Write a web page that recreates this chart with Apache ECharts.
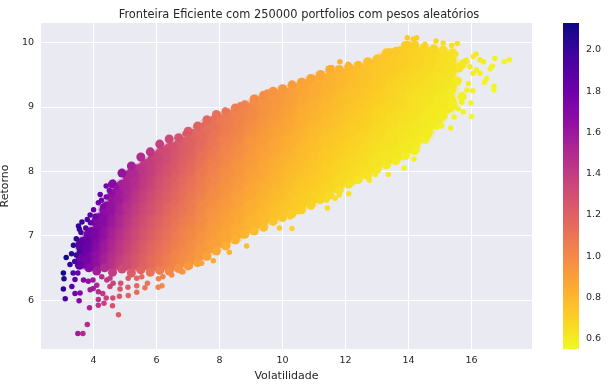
<!DOCTYPE html>
<html><head><meta charset="utf-8">
<style>html,body{margin:0;padding:0;background:#fff}#c{width:609px;height:387px}</style>
<script src="https://cdn.jsdelivr.net/npm/echarts@6/dist/echarts.min.js"></script>
</head><body><div id="c"></div>
<script>
const xTicks=[4,6,8,10,12,14,16];
const yTicks=[6,7,8,9,10];
const barTicks=[0.6,0.8,1.0,1.2,1.4,1.6,1.8,2.0];
const plasmaReversed=['#f0f921','#fcce25','#fca636','#f2844b','#e16462','#cc4778','#b12a90','#8f0da4','#6a00a8','#41049d','#0d0887'];
// [volatilidade, retorno, razão]
const coreLeft=[
[3.7,6.62,1.79],[3.7,6.85,1.85],
[3.95,6.6,1.67],[3.95,6.8,1.72],[3.95,7,1.77],
[4.2,6.62,1.58],[4.2,6.82,1.62],[4.2,7.02,1.67],[4.2,7.22,1.72],
[4.45,6.6,1.48],[4.45,6.8,1.53],[4.45,7,1.57],[4.45,7.2,1.62],[4.45,7.4,1.66],
[4.7,6.6,1.4],[4.7,6.8,1.45],[4.7,7,1.49],[4.7,7.2,1.53],[4.7,7.4,1.57],[4.7,7.6,1.62],
[4.95,6.58,1.33],[4.95,6.78,1.37],[4.95,6.98,1.41],[4.95,7.18,1.45],[4.95,7.38,1.49],[4.95,7.58,1.53],[4.95,7.74,1.56],
[5.2,6.6,1.27],[5.2,6.8,1.31],[5.2,7,1.35],[5.2,7.2,1.38],[5.2,7.4,1.42],[5.2,7.6,1.46],[5.2,7.76,1.49],[5.2,7.9,1.52],
[5.45,6.58,1.21],[5.45,6.78,1.24],[5.45,6.98,1.28],[5.45,7.18,1.32],[5.45,7.38,1.35],[5.45,7.58,1.39],[5.45,7.78,1.43],[5.45,7.98,1.46],
[5.7,6.6,1.16],[5.7,6.8,1.19],[5.7,7,1.23],[5.7,7.2,1.26],[5.7,7.4,1.3],[5.7,7.6,1.33],[5.7,7.8,1.37],[5.7,7.96,1.4],[5.7,8.06,1.41],
[5.95,6.58,1.11],[5.95,6.78,1.14],[5.95,6.98,1.17],[5.95,7.18,1.21],[5.95,7.38,1.24],[5.95,7.58,1.27],[5.95,7.78,1.31],[5.95,7.98,1.34],[5.95,8.15,1.37],
[6.2,6.6,1.06],[6.2,6.8,1.1],[6.2,7,1.13],[6.2,7.2,1.16],[6.2,7.4,1.19],[6.2,7.6,1.23],[6.2,7.8,1.26],[6.2,8,1.29],[6.2,8.14,1.31],[6.2,8.25,1.33],
[6.45,6.58,1.02],[6.45,6.78,1.05],[6.45,6.98,1.08],[6.45,7.18,1.11],[6.45,7.38,1.14],[6.45,7.58,1.18],[6.45,7.78,1.21],[6.45,7.98,1.24],[6.45,8.16,1.27],[6.45,8.31,1.29],
[6.7,6.62,0.99],[6.7,6.82,1.02],[6.7,7.02,1.05],[6.7,7.22,1.08],[6.7,7.42,1.11],[6.7,7.62,1.14],[6.7,7.82,1.17],[6.7,8.02,1.2],[6.7,8.2,1.22],[6.7,8.35,1.25],
[6.95,6.64,0.96],[6.95,6.84,0.98],[6.95,7.04,1.01],[6.95,7.24,1.04],[6.95,7.44,1.07],[6.95,7.64,1.1],[6.95,7.84,1.13],[6.95,8.04,1.16],[6.95,8.24,1.19],[6.95,8.41,1.21]
];
const coreRight=[
[7.25,6.75,0.93],[7.25,7,0.97],[7.25,7.25,1],[7.25,7.5,1.03],[7.25,7.75,1.07],[7.25,8,1.1],[7.25,8.25,1.14],[7.25,8.5,1.17],
[7.65,6.88,0.9],[7.65,7.13,0.93],[7.65,7.38,0.96],[7.65,7.63,1],[7.65,7.88,1.03],[7.65,8.13,1.06],[7.65,8.38,1.1],[7.65,8.63,1.13],
[8.05,6.97,0.87],[8.05,7.22,0.9],[8.05,7.47,0.93],[8.05,7.72,0.96],[8.05,7.97,0.99],[8.05,8.22,1.02],[8.05,8.47,1.05],[8.05,8.72,1.08],
[8.45,7.08,0.84],[8.45,7.33,0.87],[8.45,7.58,0.9],[8.45,7.83,0.93],[8.45,8.08,0.96],[8.45,8.33,0.99],[8.45,8.58,1.02],[8.45,8.8,1.04],
[8.85,7.2,0.81],[8.85,7.45,0.84],[8.85,7.7,0.87],[8.85,7.95,0.9],[8.85,8.2,0.93],[8.85,8.45,0.95],[8.85,8.7,0.98],[8.85,8.9,1.01],
[9.25,7.27,0.79],[9.25,7.52,0.81],[9.25,7.77,0.84],[9.25,8.02,0.87],[9.25,8.27,0.89],[9.25,8.52,0.92],[9.25,8.77,0.95],[9.25,9,0.97],
[9.65,7.37,0.76],[9.65,7.62,0.79],[9.65,7.87,0.82],[9.65,8.12,0.84],[9.65,8.37,0.87],[9.65,8.62,0.89],[9.65,8.87,0.92],[9.65,9.08,0.94],
[10.05,7.45,0.74],[10.05,7.7,0.77],[10.05,7.95,0.79],[10.05,8.2,0.82],[10.05,8.45,0.84],[10.05,8.7,0.87],[10.05,8.95,0.89],[10.05,9.14,0.91],
[10.45,7.53,0.72],[10.45,7.78,0.74],[10.45,8.03,0.77],[10.45,8.28,0.79],[10.45,8.53,0.82],[10.45,8.78,0.84],[10.45,9.03,0.86],[10.45,9.2,0.88],
[10.85,7.62,0.7],[10.85,7.87,0.73],[10.85,8.12,0.75],[10.85,8.37,0.77],[10.85,8.62,0.79],[10.85,8.87,0.82],[10.85,9.12,0.84],[10.85,9.28,0.86],
[11.25,7.73,0.69],[11.25,7.98,0.71],[11.25,8.23,0.73],[11.25,8.48,0.75],[11.25,8.73,0.78],[11.25,8.98,0.8],[11.25,9.23,0.82],[11.25,9.36,0.83],
[11.65,7.83,0.67],[11.65,8.08,0.69],[11.65,8.33,0.72],[11.65,8.58,0.74],[11.65,8.83,0.76],[11.65,9.08,0.78],[11.65,9.33,0.8],[11.65,9.43,0.81],
[12.05,7.94,0.66],[12.05,8.19,0.68],[12.05,8.44,0.7],[12.05,8.69,0.72],[12.05,8.94,0.74],[12.05,9.19,0.76],[12.05,9.44,0.78],
[12.45,8.04,0.65],[12.45,8.29,0.67],[12.45,8.54,0.69],[12.45,8.79,0.71],[12.45,9.04,0.73],[12.45,9.29,0.75],[12.45,9.5,0.76],
[12.85,8.14,0.63],[12.85,8.39,0.65],[12.85,8.64,0.67],[12.85,8.89,0.69],[12.85,9.14,0.71],[12.85,9.39,0.73],[12.85,9.57,0.74],
[13.25,8.25,0.62],[13.25,8.5,0.64],[13.25,8.75,0.66],[13.25,9,0.68],[13.25,9.25,0.7],[13.25,9.5,0.72],[13.25,9.67,0.73],
[13.65,8.33,0.61],[13.65,8.58,0.63],[13.65,8.83,0.65],[13.65,9.08,0.67],[13.65,9.33,0.68],[13.65,9.58,0.7],[13.65,9.72,0.71],
[14.05,8.44,0.6],[14.05,8.69,0.62],[14.05,8.94,0.64],[14.05,9.19,0.65],[14.05,9.44,0.67],[14.05,9.69,0.69],[14.05,9.8,0.7],
[14.45,8.63,0.6],[14.45,8.88,0.61],[14.45,9.13,0.63],[14.45,9.38,0.65],[14.45,9.63,0.67],[14.45,9.77,0.68],
[14.85,8.88,0.6],[14.85,9.13,0.61],[14.85,9.38,0.63],[14.85,9.63,0.65],[14.85,9.75,0.66],
[15.2,9.06,0.6],[15.2,9.31,0.61],[15.2,9.56,0.63],[15.2,9.7,0.64]
];
const rimUpper=[
[4.6,7.8,1.7],[4.9,7.97,1.63],[5.2,8.08,1.55],[5.5,8.22,1.49],[5.8,8.3,1.43],[6.1,8.42,1.38],[6.4,8.5,1.33],[6.7,8.52,1.27],[7,8.62,1.23],[7.3,8.7,1.19],[7.6,8.8,1.16],[7.9,8.88,1.12],[8.2,8.92,1.09],[8.5,8.98,1.06],[8.8,9.03,1.03],[9.1,9.12,1],[9.4,9.18,0.98],[9.7,9.24,0.95],[10,9.28,0.93],[10.3,9.34,0.91],[10.6,9.38,0.88],[10.9,9.44,0.87],[11.2,9.5,0.85],[11.5,9.58,0.83],[11.8,9.58,0.81],[12.1,9.62,0.8],[12.4,9.64,0.78],[12.7,9.7,0.76],[13,9.74,0.75],[13.3,9.84,0.74],[13.6,9.86,0.73],[13.9,9.95,0.72],[14.2,9.96,0.7],[14.5,9.92,0.68],[14.8,9.9,0.67],[15.1,9.88,0.65],[15.4,9.84,0.64],[15.7,9.65,0.61]
];
const rimLower=[
[3.55,6.54,1.84],[3.85,6.5,1.69],[4.1,6.45,1.57],[4.35,6.5,1.49],[4.6,6.43,1.4],[4.9,6.48,1.32],[5.2,6.42,1.23],[5.5,6.47,1.18],[5.8,6.43,1.11],[6.1,6.46,1.06],[6.4,6.45,1.01],[6.7,6.49,0.97],[7,6.53,0.93],[7.3,6.58,0.9],[7.6,6.68,0.88],[7.9,6.76,0.86],[8.2,6.84,0.83],[8.5,6.93,0.82],[8.8,7.02,0.8],[9.1,7.07,0.78],[9.4,7.13,0.76],[9.7,7.22,0.74],[10,7.28,0.73],[10.3,7.34,0.71],[10.6,7.4,0.7],[10.9,7.47,0.69],[11.2,7.56,0.68],[11.5,7.63,0.66],[11.8,7.71,0.65],[12.1,7.8,0.64],[12.4,7.87,0.63],[12.7,7.94,0.63],[13,8.03,0.62],[13.3,8.1,0.61],[13.6,8.16,0.6],[13.9,8.24,0.59],[14.2,8.32,0.59],[14.5,8.5,0.59],[14.8,8.72,0.59],[15.1,8.86,0.59],[15.4,9.02,0.59],[15.7,9.16,0.58],[15.55,9.4,0.6],[15.6,9.6,0.62],[15.3,9.2,0.6]
];
const outliers=[
[3.04,6.42,2.11],[3.06,6.33,2.07],[3.04,6.17,2.03],[3.1,6.02,1.94],[3.13,6.66,2.12],[3.36,6.85,2.04],[3.52,7.15,2.03],[3.63,7.21,1.99],[3.89,7.32,1.88],[4.15,7.51,1.81],[4.21,7.64,1.81],[4.4,7.77,1.77],[4.62,7.83,1.69],
[3.5,5.48,1.57],[3.66,5.48,1.5],[3.8,5.62,1.48],[3.87,5.88,1.52],[3.54,5.99,1.69],[4.79,5.77,1.21],[4.6,5.91,1.28],[4.15,5.92,1.43],[4.33,5.95,1.37],[4.15,6.01,1.45],[4.4,6.03,1.37],[4.61,6.03,1.31],[4.82,6.06,1.26],[5.1,6.07,1.19],[5.37,6.12,1.14],[6.05,6.2,1.03],[6.17,6.22,1.01],[5.63,6.19,1.1],[5.71,6.26,1.1],[5.37,6.22,1.16],[5.09,6.2,1.22],[4.84,6.17,1.27],[4.52,6.21,1.37],[4.29,6.1,1.42],[4.15,6.13,1.48],[3.89,6.16,1.58],[3.99,6.18,1.55],[3.57,6.11,1.71],[3.41,6.1,1.79],[3.31,6.21,1.88],[3.41,6.32,1.85],[3.68,6.31,1.71],[3.83,6.29,1.64],[4.1,6.23,1.52],[6.48,6.39,0.99],[6.06,6.33,1.04],
[5.37,6.34,1.18],[5.53,6.36,1.15],[4.42,6.31,1.43],[4.52,6.34,1.4],[4.62,6.26,1.36],[4.86,6.26,1.29],[3.98,6.31,1.58],[4.26,6.36,1.49],[5.1,6.34,1.24],[6.2,6.36,1.03],[6.84,6.44,0.94],[7.07,6.52,0.92],
[17.2,9.73,0.57],[17.04,9.7,0.57],[16.74,9.75,0.58],[16.71,9.32,0.56],[16.71,9.26,0.55],[16,8.85,0.55],[15.34,8.67,0.57],[15.05,8.7,0.58],[14.91,8.68,0.58],[15.45,8.84,0.57],[15.74,8.92,0.57],[15.58,8.97,0.58],[15.98,9.06,0.57],[15.69,9.07,0.58],[16.04,9.25,0.58],[16.48,9.44,0.57],[16.41,9.38,0.57],[16.59,9.59,0.58],[16.66,9.63,0.58],[16.38,9.7,0.59],[16.27,9.73,0.6],[16.14,9.82,0.61],[16.06,9.78,0.61],[15.83,9.72,0.61],[15.55,9.98,0.64],[15.37,9.95,0.65],[15.1,9.99,0.66],[14.87,10.02,0.67],[14.26,10.07,0.71],[14.15,10.05,0.71],[13.96,10.07,0.72],[13.99,9.98,0.71],[13.73,9.9,0.72],[13.41,9.87,0.74],[14.52,9.97,0.69],[15.51,9.82,0.63],[13.86,8.05,0.58],[13.36,7.95,0.6],[14.17,8.19,0.58],[14.56,8.47,0.58],[14.26,8.33,0.58],
[8.86,6.84,0.77],[8.31,6.74,0.81],[10.3,7.11,0.69],[9.9,7.12,0.72],[11.42,7.43,0.65],[12.1,7.65,0.63],[11.8,7.63,0.65],[12.76,7.86,0.62],[12.94,7.95,0.61],[7.43,6.57,0.88],[7.8,6.61,0.85],[6.8,6.44,0.95],
[16.05,9.52,0.59],[16.27,9.52,0.58],[16.16,9.57,0.59],[15.85,9.26,0.58],[15.9,9.36,0.59],[15.73,9.7,0.62],[15.85,9.7,0.61],[15.95,9.62,0.6],
[3.25,6.55,2.02],[3.3,6.72,2.04],[3.45,6.95,2.01],[3.55,7.1,2],[3.35,6.42,1.92],[3.5,6.42,1.83],[3.6,7.05,1.96],[3.4,6.6,1.95],[3.55,6.75,1.93],[3.45,6.7,1.98],[3.75,7.12,1.9],[3.8,7.25,1.91],[3.9,7.2,1.85],[4,7.4,1.85],[4.05,7.3,1.8],[4.25,7.55,1.78],[4.3,7.45,1.73],[4.4,7.6,1.73],[4.5,7.7,1.71],[4.6,7.65,1.66],[4.72,7.75,1.64],
[11.82,9.7,0.82],[12.08,9.66,0.8],[12.4,9.67,0.78],[11.56,9.61,0.83],[10.9,9.46,0.87],[9.51,9.23,0.97],[9.97,9.3,0.93],[8.17,8.95,1.1],[8.65,9.03,1.04],[7.79,8.82,1.13],[7.43,8.71,1.17],[6.9,8.58,1.24],
[10.24,7.29,0.71],[10.49,7.37,0.7],[11.4,7.55,0.66],[11.67,7.58,0.65],[12.24,7.83,0.64],[12.83,8.07,0.63]
];
const barRange=[0.55,2.13];
// Each layer is painted in order of colour value so neighbouring marks blend as in the dense original.
const ascending=data=>[...data].sort((a,b)=>a[2]-b[2]);
const descending=data=>[...data].sort((a,b)=>b[2]-a[2]);
const scatter=(data,size,opacity=1)=>({type:'scatter',data,symbolSize:size,xAxisIndex:0,yAxisIndex:0,itemStyle:{opacity},silent:true,clip:true});
const ink='#262626', font='DejaVu Sans';
const chart=echarts.init(document.getElementById('c'),null,{renderer:'canvas'});
chart.setOption({
 animation:false,backgroundColor:'#fff',
 title:{text:'Fronteira Eficiente com 250000 portfolios com pesos aleatórios',left:294,top:5,textAlign:'center',textStyle:{fontFamily:font,fontSize:11.4,fontWeight:'normal',color:ink}},
 grid:[{left:41,top:23,width:491,height:326,show:true,backgroundColor:'#eaeaf2',borderWidth:0,outerBoundsMode:'none'},
       {left:563,top:23,width:16,height:326,show:false,outerBoundsMode:'none'}],
 xAxis:[{type:'value',gridIndex:0,min:2.33,max:17.92,name:'Volatilidade',nameLocation:'middle',nameGap:22,nameTextStyle:{fontFamily:font,fontSize:11,color:ink},
   axisLine:{show:false},axisTick:{show:false,customValues:xTicks},axisLabel:{customValues:xTicks,fontFamily:font,fontSize:9.5,color:ink,margin:7},splitLine:{show:true,lineStyle:{color:'#fff',width:1}}},
  {type:'category',gridIndex:1,data:['escala'],show:false}],
 yAxis:[{type:'value',gridIndex:0,min:5.24,max:10.3,name:'Retorno',nameLocation:'middle',nameGap:28,nameTextStyle:{fontFamily:font,fontSize:11,color:ink},
   axisLine:{show:false},axisTick:{show:false,customValues:yTicks},axisLabel:{customValues:yTicks,fontFamily:font,fontSize:9.5,color:ink,margin:7},splitLine:{show:true,lineStyle:{color:'#fff',width:1}}},
  {type:'value',gridIndex:1,position:'right',min:barRange[0],max:barRange[1],axisLine:{show:false},axisTick:{show:false,customValues:barTicks},
   axisLabel:{customValues:barTicks,fontFamily:font,fontSize:9.5,color:ink,margin:7,formatter:v=>v.toFixed(1)},splitLine:{show:false}}],
 visualMap:{type:'continuous',show:false,min:barRange[0],max:barRange[1],dimension:2,seriesIndex:[0,1,2,3,4,5,6],inRange:{color:plasmaReversed}},
 series:[
  scatter(ascending(coreRight),21),
  scatter(ascending(coreLeft),17),
  scatter(descending(coreRight),26,0.25),
  scatter(descending(coreLeft),20,0.25),
  scatter(ascending(rimUpper),9),
  scatter(ascending(rimLower),9),
  scatter(ascending(outliers),5.5),
  {type:'bar',xAxisIndex:1,yAxisIndex:1,data:[barRange[1]],barWidth:'100%',silent:true,
   itemStyle:{color:new echarts.graphic.LinearGradient(0,1,0,0,plasmaReversed.map((color,i)=>({offset:i/(plasmaReversed.length-1),color})))}}
 ]
});
</script></body></html>
